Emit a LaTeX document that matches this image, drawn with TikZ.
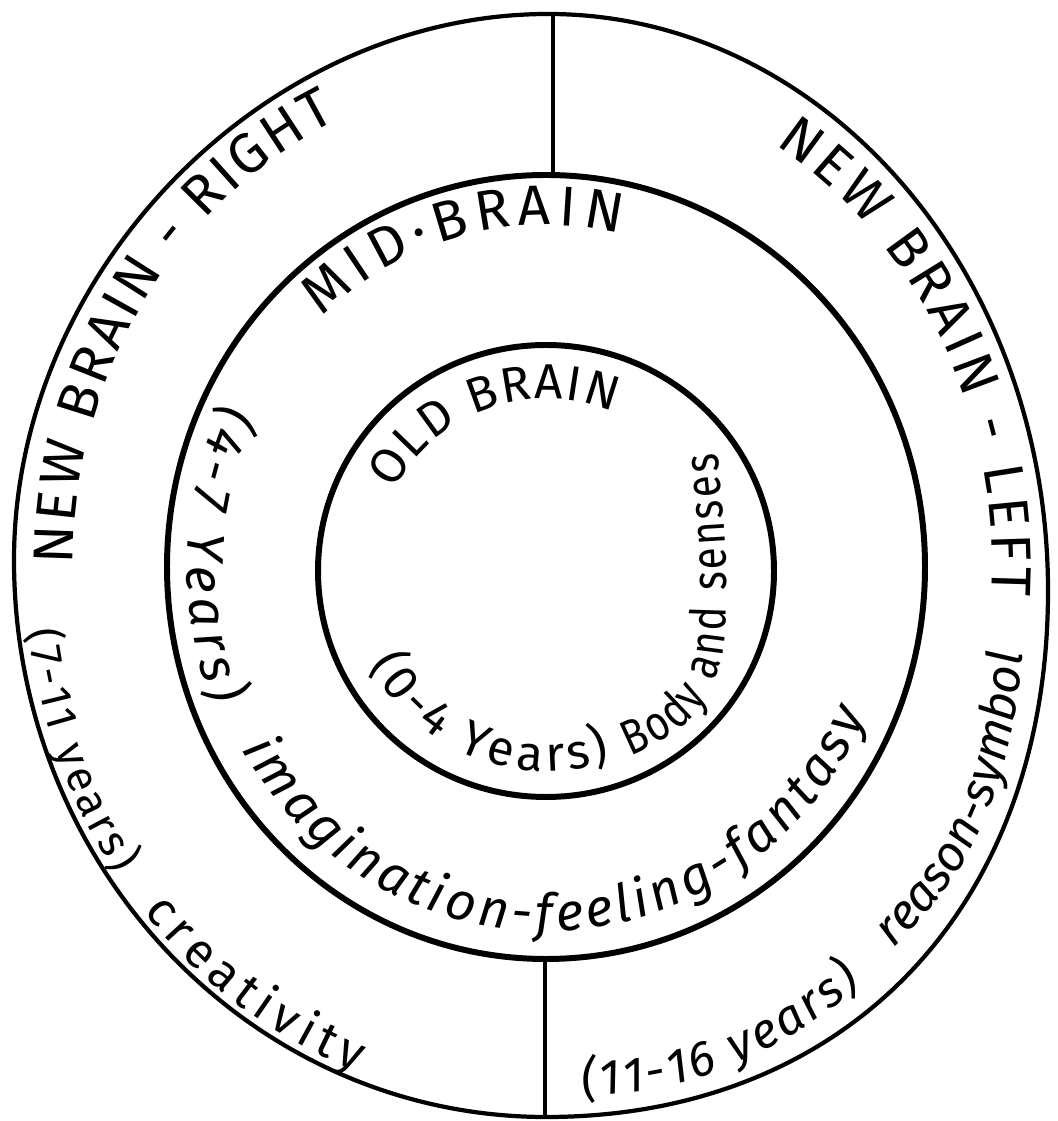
\documentclass[tikz,border=0pt]{standalone}
\usepackage{fontspec}
\setmainfont{Fira Sans}
\newfontfamily\narrowfont{Fira Sans}[FakeStretch=0.82]
\usetikzlibrary{decorations.text}
\newcommand\capsz{\fontsize{16}{18}\selectfont}
\newcommand\capsmsz{\fontsize{14}{16}\selectfont}
\newcommand\lowsz{\fontsize{14}{16}\selectfont}
\newcommand\lowsmsz{\fontsize{12.5}{15}\selectfont}
\newcommand\lowitsz{\fontsize{14}{16}\selectfont\itshape}
\newcommand\lowbigsz{\fontsize{15}{17}\selectfont\itshape}
\newcommand\bodysz{\fontsize{14}{16}\narrowfont}
\tikzset{
  ring/.style={draw=black, line width=1.7pt},
  outerring/.style={draw=black, line width=1.2pt},
  divider/.style={draw=black, line width=0.9pt},
  captext/.style={decorate, decoration={text along path, text align=fit to path, text={|\capsz|#1}}},
  capsmall/.style={decorate, decoration={text along path, text align=fit to path, text={|\capsmsz|#1}}},
  lowtext/.style={decorate, decoration={text along path, text align=fit to path, text={|\lowsz|#1}}},
  lowsmall/.style={decorate, decoration={text along path, text align=fit to path, text={|\lowsmsz|#1}}},
  lowit/.style={decorate, decoration={text along path, text align=fit to path, text={|\lowitsz|#1}}},
  lowbig/.style={decorate, decoration={text along path, text align=fit to path, text={|\lowbigsz|#1}}},
  bodytext/.style={decorate, decoration={text along path, text align=fit to path, text={|\bodysz|#1}}},
}
\begin{document}
\begin{tikzpicture}[x=0.01cm, y=0.01cm]
\useasboundingbox (0,0) rectangle (1058,1121);
% outer egg-shaped ring
\draw[outerring] (548,1107) .. controls (824,1107) and (1048,849) .. (1048,530)
  .. controls (1048,214) and (847,4) .. (546,4)
  .. controls (252,4) and (14,253) .. (14,561)
  .. controls (14,850) and (265,1107) .. (548,1107) -- cycle;
% middle and inner rings
\draw[ring] (546,554) ellipse [x radius=379, y radius=392];
\draw[ring] (546,550) ellipse [x radius=228, y radius=226];
% dividers
\coordinate (otop) at (553,1107);
\coordinate (mtop) at (553,946);
\coordinate (mbot) at (545,162);
\coordinate (obot) at (545,4);
\draw[divider] (otop) -- (mtop);
\draw[divider] (mbot) -- (obot);
% outer ring texts
\path[captext={NEW BRAIN - RIGHT}] ([shift={(530,556)}]180:457 and 491) arc[start angle=180, end angle=115, x radius=457, y radius=491];
\path[captext={NEW BRAIN - LEFT}] ([shift={(530,556)}]58:462 and 496) arc[start angle=58, end angle=-3.5, x radius=462, y radius=496];
\path[lowsmall={(7-11 years)}] ([shift={(530,556)}]187:505 and 539) arc[start angle=187, end angle=215, x radius=505, y radius=539];
\path[lowtext={creativity}] ([shift={(530,556)}]220:505 and 539) arc[start angle=220, end angle=250, x radius=505, y radius=539];
\path[lowit={(11-16 years)}] (583,23) to[out=7,in=201] (720,51) to[out=21,in=218] (862,136);
\path[lowit={reason-symbol}] (893,173) to[out=45,in=242] (970,271) to[out=62,in=258] (1013,396) to[out=78,in=265] (1022,466);
% middle ring texts
\path[captext={MID·BRAIN}] ([shift={(546,554)}]133:329 and 342) arc[start angle=133, end angle=77, x radius=329, y radius=342];
\path[lowbig={(4-7 Years)}] ([shift={(546,554)}]154:359 and 372) arc[start angle=154, end angle=202, x radius=359, y radius=372];
\path[lowbig={imagination-feeling-fantasy}] ([shift={(546,554)}]210:351 and 364) arc[start angle=210, end angle=336, x radius=351, y radius=364];
% inner ring texts
\path[capsmall={OLD BRAIN}] ([shift={(546,550)}]152:172) arc[start angle=152, end angle=67, radius=172];
\path[lowtext={(0-4 Years)}] ([shift={(546,550)}]208:200) arc[start angle=208, end angle=289, radius=200];
\path[bodytext={Body and senses}] (630,365) to[out=24,in=238] (705,421) to[out=60,in=269] (726,521) to[out=89,in=275] (718,668);
\end{tikzpicture}
\end{document}
